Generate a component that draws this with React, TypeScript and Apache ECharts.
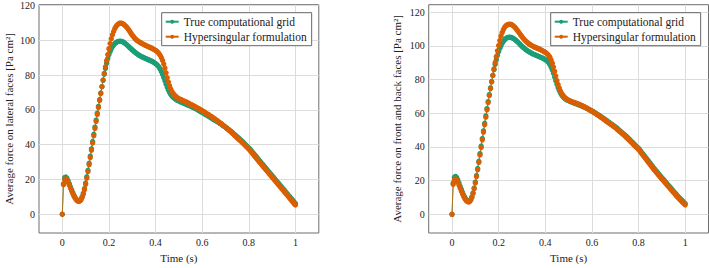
import React, { useEffect, useRef } from "react";
import * as echarts from "echarts";

// Time samples (s): 0 to 1 by 0.005
const TIME: number[] = Array.from({ length: 201 }, (_, i) => +(i * 0.005).toFixed(3));

const SERIES_NAMES = ["True computational grid", "Hypersingular formulation"];
const X_TICKS = [0, 0.2, 0.4, 0.6, 0.8, 1];
const Y_TICKS = [0, 20, 40, 60, 80, 100, 120];

// Left panel: lateral faces
const LEFT_TRUE: number[] = [
  0, 17.5, 21, 21.4, 20.6, 19.2, 17.5, 15.7, 14, 12.4,
  10.9, 9.6, 8.6, 7.9, 7.6, 7.8, 8.6, 10, 12, 14.7,
  17.9, 21.5, 25.3, 29.3, 33.4, 37.6, 41.8, 46, 50.1, 54.1,
  58.1, 62, 65.9, 69.7, 73.4, 77, 80.5, 83.8, 86.8, 89.5,
  91.8, 93.6, 95.1, 96.3, 97.3, 98.1, 98.7, 99.1, 99.4, 99.5,
  99.5, 99.4, 99.1, 98.7, 98.2, 97.6, 97, 96.4, 95.7, 95.1,
  94.5, 93.9, 93.3, 92.8, 92.3, 91.8, 91.4, 91, 90.6, 90.3,
  90, 89.7, 89.4, 89.1, 88.8, 88.5, 88.2, 87.9, 87.5, 87.1,
  86.6, 86.1, 85.4, 84.5, 83.4, 82, 80.4, 78.6, 76.7, 74.8,
  73, 71.4, 70, 68.9, 68, 67.3, 66.7, 66.2, 65.8, 65.4,
  65.1, 64.8, 64.5, 64.2, 63.9, 63.6, 63.3, 63, 62.7, 62.4,
  62.1, 61.8, 61.5, 61.2, 60.8, 60.5, 60.1, 59.7, 59.3, 58.9,
  58.5, 58.1, 57.7, 57.3, 56.9, 56.5, 56.1, 55.7, 55.2, 54.8,
  54.4, 54, 53.6, 53.2, 52.8, 52.3, 51.9, 51.4, 50.9, 50.5,
  50, 49.5, 49, 48.5, 48, 47.5, 46.9, 46.3, 45.7, 45.1,
  44.5, 43.9, 43.3, 42.7, 42.1, 41.5, 40.8, 40.1, 39.4, 38.7,
  38.1, 37.4, 36.6, 35.8, 35, 34.2, 33.4, 32.6, 31.7, 30.9,
  30.1, 29.3, 28.5, 27.7, 26.9, 26.1, 25.3, 24.5, 23.7, 22.9,
  22.1, 21.3, 20.5, 19.7, 18.9, 18.1, 17.3, 16.5, 15.7, 14.9,
  14.1, 13.3, 12.5, 11.7, 10.9, 10.1, 9.3, 8.5, 7.7, 6.9,
  6.1,
];

const LEFT_HYPER: number[] = [
  0, 17, 19.8, 20.3, 19.6, 18.3, 16.7, 15, 13.3, 11.8,
  10.4, 9.2, 8.3, 7.7, 7.4, 7.6, 8.3, 9.6, 11.5, 14.1,
  17.2, 20.7, 24.5, 28.5, 32.6, 36.8, 41, 45.2, 49.3, 53.4,
  57.4, 61.4, 65.4, 69.4, 73.3, 77.2, 81, 84.7, 88.3, 91.8,
  95.2, 98.2, 100.9, 103.2, 105.1, 106.7, 107.9, 108.8, 109.4, 109.8,
  109.9, 109.8, 109.5, 109, 108.4, 107.7, 106.9, 106, 105, 104,
  103, 102.1, 101.3, 100.6, 100, 99.5, 99.1, 98.7, 98.3, 97.9,
  97.6, 97.2, 96.9, 96.6, 96.3, 96, 95.7, 95.4, 95, 94.6,
  94.2, 93.7, 93.1, 92.3, 91.3, 90, 88.4, 86.4, 84, 81.3,
  78.5, 76, 73.8, 72, 70.6, 69.5, 68.6, 67.9, 67.3, 66.8,
  66.4, 66.1, 65.8, 65.5, 65.2, 64.9, 64.6, 64.3, 63.9, 63.5,
  63.2, 62.9, 62.5, 62.2, 61.8, 61.4, 61.1, 60.7, 60.3, 59.9,
  59.5, 59.1, 58.7, 58.2, 57.8, 57.4, 57, 56.5, 56.1, 55.6,
  55.2, 54.7, 54.2, 53.7, 53.2, 52.7, 52.2, 51.7, 51.1, 50.6,
  50, 49.4, 48.9, 48.3, 47.7, 47.1, 46.5, 45.9, 45.2, 44.6,
  43.9, 43.3, 42.7, 42.1, 41.5, 40.8, 40.2, 39.5, 38.8, 38.2,
  37.5, 36.7, 35.9, 35, 34.2, 33.4, 32.6, 31.8, 30.9, 30.1,
  29.3, 28.5, 27.7, 26.9, 26.1, 25.3, 24.5, 23.7, 22.9, 22.1,
  21.3, 20.5, 19.7, 18.9, 18.1, 17.3, 16.5, 15.7, 14.9, 14.1,
  13.3, 12.5, 11.7, 10.9, 10.1, 9.3, 8.4, 7.6, 6.8, 6,
  5.3,
];

// Right panel: front and back faces
const RIGHT_TRUE: number[] = [
  0, 18.5, 22, 22.5, 21.8, 20.3, 18.5, 16.6, 14.8, 13,
  11.4, 10, 8.9, 8.1, 7.7, 7.8, 8.6, 10.2, 12.6, 15.6,
  19.1, 23, 27.2, 31.5, 36, 40.5, 45, 49.5, 54, 58.4,
  62.7, 66.9, 71, 75, 78.8, 82.4, 85.8, 88.9, 91.8, 94.3,
  96.6, 98.5, 100.1, 101.5, 102.6, 103.5, 104.2, 104.7, 105, 105.1,
  105.1, 104.9, 104.6, 104.2, 103.7, 103.1, 102.5, 101.8, 101.1, 100.4,
  99.7, 99.1, 98.5, 97.9, 97.4, 96.9, 96.5, 96.1, 95.7, 95.3,
  95, 94.7, 94.4, 94.1, 93.8, 93.5, 93.2, 92.9, 92.6, 92.2,
  91.8, 91.3, 90.7, 89.9, 88.8, 87.4, 85.7, 83.7, 81.5, 79.3,
  77.2, 75.2, 73.5, 72, 70.8, 69.9, 69.2, 68.6, 68.1, 67.7,
  67.4, 67.1, 66.8, 66.5, 66.2, 66, 65.7, 65.5, 65.2, 64.9,
  64.7, 64.4, 64.1, 63.8, 63.5, 63.1, 62.8, 62.4, 62, 61.7,
  61.3, 60.9, 60.5, 60.1, 59.6, 59.2, 58.7, 58.3, 57.8, 57.3,
  56.9, 56.4, 55.9, 55.4, 54.9, 54.4, 53.9, 53.4, 52.9, 52.4,
  51.9, 51.4, 50.8, 50.2, 49.6, 49, 48.4, 47.8, 47.2, 46.6,
  46, 45.3, 44.6, 43.9, 43.2, 42.5, 41.8, 41.1, 40.4, 39.7,
  39.1, 38.2, 37.3, 36.4, 35.6, 34.7, 33.8, 32.9, 32, 31.1,
  30.2, 29.3, 28.4, 27.5, 26.7, 25.8, 25, 24.1, 23.3, 22.5,
  21.7, 20.9, 20.1, 19.3, 18.5, 17.7, 16.9, 16.1, 15.3, 14.5,
  13.7, 12.9, 12.1, 11.3, 10.5, 9.8, 9.1, 8.4, 7.7, 7,
  6.3,
];

const RIGHT_HYPER: number[] = [
  0, 17.8, 20.3, 21, 20.4, 19, 17.3, 15.5, 13.7, 12.1,
  10.6, 9.3, 8.3, 7.6, 7.3, 7.5, 8.4, 10, 12.3, 15.2,
  18.6, 22.4, 26.5, 30.8, 35.2, 39.7, 44.2, 48.7, 53.2, 57.6,
  62, 66.3, 70.5, 74.6, 78.6, 82.5, 86.3, 90, 93.6, 97,
  100.2, 103.1, 105.7, 107.8, 109.5, 110.8, 111.7, 112.3, 112.6, 112.8,
  112.8, 112.6, 112.2, 111.6, 110.9, 110.1, 109.2, 108.3, 107.3, 106.3,
  105.4, 104.5, 103.7, 103, 102.3, 101.7, 101.2, 100.7, 100.3, 99.9,
  99.5, 99.2, 98.9, 98.6, 98.3, 98, 97.7, 97.3, 96.9, 96.5,
  96.1, 95.6, 95, 94.2, 93.1, 91.6, 89.7, 87.4, 84.8, 82.1,
  79.4, 77, 74.9, 73.2, 71.8, 70.7, 69.8, 69.1, 68.6, 68.1,
  67.7, 67.4, 67.1, 66.8, 66.5, 66.3, 66, 65.8, 65.5, 65.2,
  64.9, 64.6, 64.3, 64, 63.6, 63.2, 62.8, 62.4, 62, 61.6,
  61.2, 60.8, 60.3, 59.9, 59.4, 59, 58.5, 58, 57.5, 57,
  56.5, 56, 55.5, 55, 54.5, 54, 53.5, 53, 52.5, 52,
  51.5, 50.9, 50.3, 49.7, 49.1, 48.5, 47.9, 47.3, 46.7, 46,
  45.4, 44.7, 44, 43.3, 42.6, 41.9, 41.2, 40.5, 39.8, 39.2,
  38.5, 37.6, 36.7, 35.8, 34.9, 34, 33.1, 32.2, 31.3, 30.4,
  29.5, 28.6, 27.7, 26.8, 26, 25.1, 24.3, 23.4, 22.6, 21.8,
  21, 20.2, 19.4, 18.6, 17.8, 17, 16.2, 15.4, 14.6, 13.8,
  13, 12.2, 11.4, 10.6, 9.8, 9.1, 8.4, 7.7, 7, 6.3,
  5.6,
];

const GREEN = "#1b9e77";
const ORANGE = "#d95f02";
const FONT = "'Liberation Serif', 'Times New Roman', serif";

function pairs(vals: number[]): number[][] {
  return vals.map((v, i) => [TIME[i], v]);
}

function fmt(v: number): string {
  return String(+v.toFixed(2));
}

export default function App() {
  const ref = useRef<HTMLDivElement>(null);
  useEffect(() => {
    if (!ref.current) return;
    const chart = echarts.init(ref.current, undefined, { renderer: "svg" });

    const grids = [
      { left: 39, top: 4.7, width: 279.8, height: 234.6 },
      { left: 428.7, top: 4.7, width: 279.8, height: 234.6 },
    ];
    const yNames = [
      "Average force on lateral faces [Pa cm²]",
      "Average force on front and back faces [Pa cm²]",
    ];
    const yRanges = [
      [-10.8, 120.5],
      [-11.1, 124.4],
    ];

    const xAxis = grids.map((_, g) => ({
      type: "value",
      gridIndex: g,
      min: -0.1,
      max: 1.1,
      name: "Time (s)",
      nameLocation: "middle",
      nameGap: 19,
      nameTextStyle: { fontFamily: FONT, fontSize: 11, color: "#222" },
      axisLine: { show: false },
      axisTick: { show: false, customValues: X_TICKS },
      axisLabel: {
        customValues: X_TICKS,
        formatter: fmt,
        fontFamily: FONT,
        fontSize: 10,
        color: "#222",
        margin: 4,
      },
      splitLine: { show: true, lineStyle: { color: "#dcdcdc", width: 1 } },
    }));

    const yAxis = grids.map((_, g) => ({
      type: "value",
      gridIndex: g,
      min: yRanges[g][0],
      max: yRanges[g][1],
      name: yNames[g],
      nameLocation: "middle",
      nameRotate: 90,
      nameGap: g === 0 ? 25 : 26.5,
      nameTextStyle: { fontFamily: FONT, fontSize: 11, color: "#222" },
      axisLine: { show: false },
      axisTick: { show: false, customValues: Y_TICKS },
      axisLabel: {
        customValues: Y_TICKS,
        formatter: fmt,
        fontFamily: FONT,
        fontSize: 10,
        color: "#222",
        margin: 4,
      },
      splitLine: { show: true, lineStyle: { color: "#dcdcdc", width: 1 } },
    }));

    const mk = (name: string, vals: number[], color: string, g: number) => ({
      type: "line",
      name,
      xAxisIndex: g,
      yAxisIndex: g,
      data: pairs(vals),
      symbol: "circle",
      symbolSize: 5.4,
      showSymbol: true,
      showAllSymbol: true,
      itemStyle: { color },
      lineStyle: { color, width: 0.8 },
      emphasis: { disabled: true },
    });

    const legendBase = {
      data: SERIES_NAMES,
      orient: "vertical",
      top: 12.7,
      itemWidth: 13,
      itemHeight: 5,
      itemGap: 3,
      padding: [3, 5, 3, 3],
      borderColor: "#666",
      borderWidth: 1,
      backgroundColor: "#fff",
      textStyle: { fontFamily: FONT, fontSize: 11.5, color: "#222" },
      selectedMode: false,
    };

    chart.setOption({
      animation: false,
      grid: grids.map((g) => ({
        ...g,
        show: true,
        borderColor: "#6e6e6e",
        borderWidth: 1,
        backgroundColor: "transparent",
      })),
      xAxis,
      yAxis,
      legend: [
        { ...legendBase, left: 161.7 },
        { ...legendBase, left: 550.7 },
      ],
      series: [
        mk(SERIES_NAMES[0], LEFT_TRUE, GREEN, 0),
        mk(SERIES_NAMES[1], LEFT_HYPER, ORANGE, 0),
        mk(SERIES_NAMES[0], RIGHT_TRUE, GREEN, 1),
        mk(SERIES_NAMES[1], RIGHT_HYPER, ORANGE, 1),
      ],
    });

    return () => chart.dispose();
  }, []);

  return (
    <div
      ref={ref}
      style={{ position: "fixed", left: 0, top: 0, width: 709, height: 268, background: "#fff" }}
    />
  );
}
